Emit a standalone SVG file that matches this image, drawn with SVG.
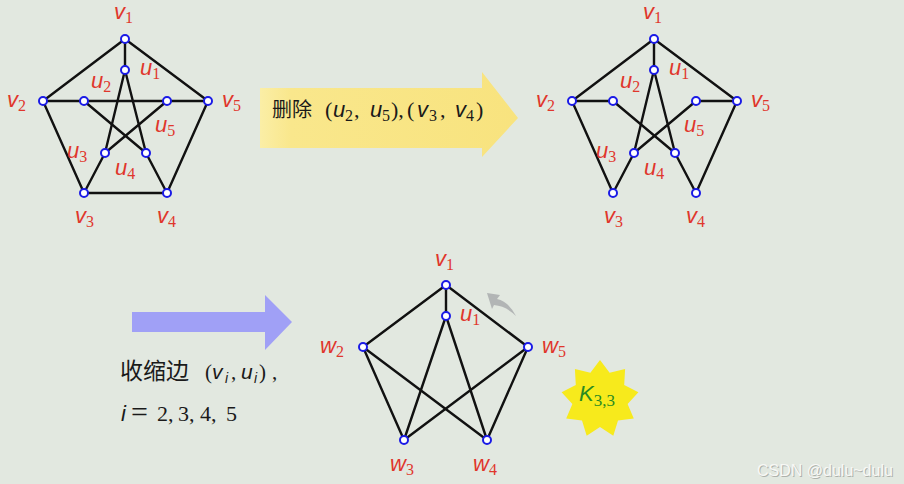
<svg xmlns="http://www.w3.org/2000/svg" width="904" height="484" viewBox="0 0 904 484">
<defs>
<style>
.e{stroke:#111;stroke-width:2.4;fill:none;stroke-linecap:round}
.n{fill:#fff;stroke:#1a1ae6;stroke-width:2}
.l{font-family:"Liberation Sans",Arial,sans-serif;font-style:italic;font-size:22px;fill:#e0362c}
.s{font-family:"Liberation Serif",serif;font-style:normal;font-size:16px}
.t{font-family:"Liberation Sans","Noto Sans CJK SC",sans-serif;fill:#1a1a1a}
.m{font-family:"Liberation Sans",sans-serif;font-style:italic}
.r{font-family:"Liberation Serif",serif;font-style:normal}
.wm{font-family:"Liberation Sans",sans-serif;font-size:16px}
</style>
<linearGradient id="yg" x1="0" x2="1" y1="0" y2="0">
<stop offset="0" stop-color="#fbeea6"/>
<stop offset="0.12" stop-color="#f9e78c"/>
<stop offset="1" stop-color="#f8e37e"/>
</linearGradient>
</defs>
<rect width="904" height="484" fill="#e2e8e0"/>

<!-- Graph 1 -->
<g id="connectors-g1">
<line class="e" x1="125" y1="39" x2="43" y2="101"/>
<line class="e" x1="125" y1="39" x2="208" y2="101"/>
<line class="e" x1="125" y1="39" x2="125" y2="70"/>
<line class="e" x1="43" y1="101" x2="84" y2="193"/>
<line class="e" x1="208" y1="101" x2="167" y2="193"/>
<line class="e" x1="84" y1="193" x2="167" y2="193"/>
<line class="e" x1="43" y1="101" x2="208" y2="101"/>
<line class="e" x1="84" y1="101" x2="146" y2="153"/>
<line class="e" x1="167" y1="101" x2="105" y2="153"/>
<line class="e" x1="125" y1="70" x2="105" y2="153"/>
<line class="e" x1="125" y1="70" x2="146" y2="153"/>
<line class="e" x1="84" y1="193" x2="105" y2="153"/>
<line class="e" x1="167" y1="193" x2="146" y2="153"/>
</g>
<g id="g1-v1"><circle class="n" cx="125" cy="39" r="4"/><text class="l" x="114" y="19">v<tspan class="s" dy="4">1</tspan></text></g>
<g id="g1-u1"><circle class="n" cx="125" cy="70" r="4"/><text class="l" x="140" y="75">u<tspan class="s" dy="4">1</tspan></text></g>
<g id="g1-u2"><circle class="n" cx="84" cy="101" r="4"/><text class="l" x="91" y="88">u<tspan class="s" dy="4">2</tspan></text></g>
<g id="g1-v2"><circle class="n" cx="43" cy="101" r="4"/><text class="l" x="7" y="107">v<tspan class="s" dy="4">2</tspan></text></g>
<g id="g1-u5"><circle class="n" cx="167" cy="101" r="4"/><text class="l" x="155" y="132">u<tspan class="s" dy="4">5</tspan></text></g>
<g id="g1-v5"><circle class="n" cx="208" cy="101" r="4"/><text class="l" x="222" y="107">v<tspan class="s" dy="4">5</tspan></text></g>
<g id="g1-u3"><circle class="n" cx="105" cy="153" r="4"/><text class="l" x="67" y="158">u<tspan class="s" dy="4">3</tspan></text></g>
<g id="g1-u4"><circle class="n" cx="146" cy="153" r="4"/><text class="l" x="115" y="175">u<tspan class="s" dy="4">4</tspan></text></g>
<g id="g1-v3"><circle class="n" cx="84" cy="193" r="4"/><text class="l" x="75" y="223">v<tspan class="s" dy="4">3</tspan></text></g>
<g id="g1-v4"><circle class="n" cx="167" cy="193" r="4"/><text class="l" x="157" y="223">v<tspan class="s" dy="4">4</tspan></text></g>

<!-- Yellow arrow -->
<g id="arrow-delete">
<polygon points="260,88 482,88 482,72 518,118 482,157 482,148 260,148" fill="url(#yg)"/>
<text class="t" font-size="20" x="272" y="117">删除</text>
<text class="t" font-size="22" y="117"><tspan class="r" x="325">(</tspan><tspan class="m" x="333">u</tspan><tspan class="r" font-size="16" x="345" dy="4">2</tspan><tspan class="r" x="354" dy="-4">,</tspan><tspan class="m" x="370">u</tspan><tspan class="r" font-size="16" x="382" dy="4">5</tspan><tspan class="r" x="391" dy="-4">),</tspan><tspan class="r" x="407">(</tspan><tspan class="m" x="417">v</tspan><tspan class="r" font-size="16" x="429" dy="4">3</tspan><tspan class="r" x="440" dy="-4">,</tspan><tspan class="m" x="455">v</tspan><tspan class="r" font-size="16" x="466" dy="4">4</tspan><tspan class="r" x="476" dy="-4">)</tspan></text>
</g>

<!-- Graph 2 -->
<g id="connectors-g2">
<line class="e" x1="654" y1="39" x2="572" y2="101"/>
<line class="e" x1="654" y1="39" x2="737" y2="101"/>
<line class="e" x1="654" y1="39" x2="654" y2="70"/>
<line class="e" x1="572" y1="101" x2="613" y2="193"/>
<line class="e" x1="737" y1="101" x2="696" y2="193"/>
<line class="e" x1="572" y1="101" x2="613" y2="101"/>
<line class="e" x1="696" y1="101" x2="737" y2="101"/>
<line class="e" x1="613" y1="101" x2="675" y2="153"/>
<line class="e" x1="696" y1="101" x2="634" y2="153"/>
<line class="e" x1="654" y1="70" x2="634" y2="153"/>
<line class="e" x1="654" y1="70" x2="675" y2="153"/>
<line class="e" x1="613" y1="193" x2="634" y2="153"/>
<line class="e" x1="696" y1="193" x2="675" y2="153"/>
</g>
<g id="g2-v1"><circle class="n" cx="654" cy="39" r="4"/><text class="l" x="643" y="19">v<tspan class="s" dy="4">1</tspan></text></g>
<g id="g2-u1"><circle class="n" cx="654" cy="70" r="4"/><text class="l" x="669" y="75">u<tspan class="s" dy="4">1</tspan></text></g>
<g id="g2-u2"><circle class="n" cx="613" cy="101" r="4"/><text class="l" x="620" y="88">u<tspan class="s" dy="4">2</tspan></text></g>
<g id="g2-v2"><circle class="n" cx="572" cy="101" r="4"/><text class="l" x="536" y="107">v<tspan class="s" dy="4">2</tspan></text></g>
<g id="g2-u5"><circle class="n" cx="696" cy="101" r="4"/><text class="l" x="684" y="132">u<tspan class="s" dy="4">5</tspan></text></g>
<g id="g2-v5"><circle class="n" cx="737" cy="101" r="4"/><text class="l" x="751" y="107">v<tspan class="s" dy="4">5</tspan></text></g>
<g id="g2-u3"><circle class="n" cx="634" cy="153" r="4"/><text class="l" x="596" y="158">u<tspan class="s" dy="4">3</tspan></text></g>
<g id="g2-u4"><circle class="n" cx="675" cy="153" r="4"/><text class="l" x="644" y="175">u<tspan class="s" dy="4">4</tspan></text></g>
<g id="g2-v3"><circle class="n" cx="613" cy="193" r="4"/><text class="l" x="604" y="223">v<tspan class="s" dy="4">3</tspan></text></g>
<g id="g2-v4"><circle class="n" cx="696" cy="193" r="4"/><text class="l" x="686" y="223">v<tspan class="s" dy="4">4</tspan></text></g>

<!-- Blue arrow and caption -->
<g id="arrow-contract">
<polygon points="132,312 265,312 265,295 292,322 265,350 265,332 132,332" fill="#a0a0f6"/>
<text class="t" font-size="23" x="120" y="379">收缩边</text>
<text class="t" font-size="21" y="379"><tspan class="r" x="205">(</tspan><tspan class="m" x="212">v</tspan><tspan class="m" font-size="14" x="225" dy="4">i</tspan><tspan class="r" x="231" dy="-4">,</tspan><tspan class="m" x="241">u</tspan><tspan class="m" font-size="14" x="254" dy="4">i</tspan><tspan class="r" x="259" dy="-4">)</tspan><tspan class="r" x="272">,</tspan></text>
<text class="t" font-size="22" y="421"><tspan class="m" x="121">i</tspan><tspan class="r" font-size="30" x="131" dy="1">=</tspan><tspan class="r" x="157" dy="-1">2,</tspan><tspan class="r" x="178">3,</tspan><tspan class="r" x="200">4,</tspan><tspan class="r" x="226">5</tspan></text>
</g>

<!-- Graph 3 -->
<g id="connectors-g3">
<line class="e" x1="446" y1="285" x2="446" y2="316"/>
<line class="e" x1="446" y1="285" x2="363" y2="347"/>
<line class="e" x1="446" y1="285" x2="528" y2="347"/>
<line class="e" x1="446" y1="316" x2="404" y2="440"/>
<line class="e" x1="446" y1="316" x2="487" y2="440"/>
<line class="e" x1="363" y1="347" x2="404" y2="440"/>
<line class="e" x1="363" y1="347" x2="487" y2="440"/>
<line class="e" x1="528" y1="347" x2="404" y2="440"/>
<line class="e" x1="528" y1="347" x2="487" y2="440"/>
</g>
<g id="g3-v1"><circle class="n" cx="446" cy="285" r="4"/><text class="l" x="435" y="266">v<tspan class="s" dy="4">1</tspan></text></g>
<g id="g3-u1"><circle class="n" cx="446" cy="316" r="4"/><text class="l" x="460" y="321">u<tspan class="s" dy="4">1</tspan></text></g>
<g id="g3-w2"><circle class="n" cx="363" cy="347" r="4"/><text class="l" x="320" y="353">w<tspan class="s" dy="4">2</tspan></text></g>
<g id="g3-w5"><circle class="n" cx="528" cy="347" r="4"/><text class="l" x="542" y="353">w<tspan class="s" dy="4">5</tspan></text></g>
<g id="g3-w3"><circle class="n" cx="404" cy="440" r="4"/><text class="l" x="390" y="471">w<tspan class="s" dy="4">3</tspan></text></g>
<g id="g3-w4"><circle class="n" cx="487" cy="440" r="4"/><text class="l" x="473" y="471">w<tspan class="s" dy="4">4</tspan></text></g>

<!-- cursor artifact -->
<path d="M487,293 L500,295 L497,299 Q508,301 516,316 Q506,306 494,305 L492,309 Z" fill="#8a8a92" opacity="0.55"/>

<!-- K3,3 star -->
<g id="k33">
<polygon points="600,360 609.6,372.7 625.1,369.1 624.2,385 638.4,392.2 627.6,403.9 633.8,418.5 618,420.4 613.3,435.7 600,427 586.7,435.7 582,420.4 566.2,418.5 572.4,403.9 561.6,392.2 575.8,385 574.9,369.1 590.4,372.7" fill="#f7ea1c"/>
<text x="579" y="401" font-family="Liberation Sans,sans-serif" font-style="italic" font-size="22" fill="#2a8a22">K<tspan font-family="Liberation Serif,serif" font-style="normal" font-size="17" dy="5">3,3</tspan></text>
</g>

<g id="watermark">
<text class="wm" x="758" y="477" fill="#aeb2ac">CSDN @dulu~dulu</text>
<text class="wm" x="757" y="476" fill="#f7f8f6">CSDN @dulu~dulu</text>
</g>
</svg>
